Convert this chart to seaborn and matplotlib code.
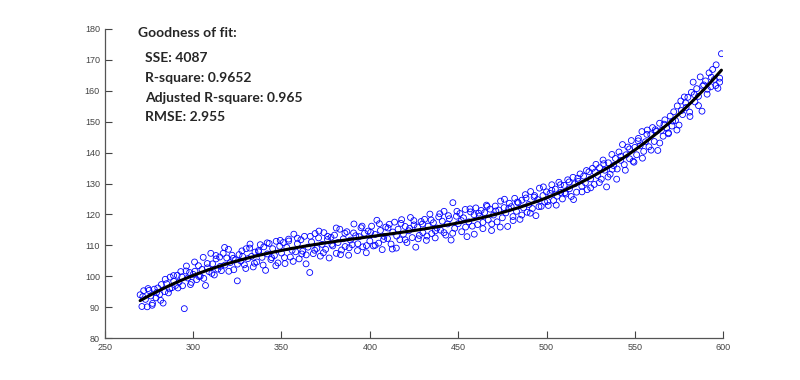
import matplotlib
matplotlib.use("Agg")
import matplotlib.pyplot as plt
import seaborn as sns
import pandas as pd

x_vals = [
    270, 271, 272, 273, 274, 275, 276, 277, 278, 279,
    280, 281, 282, 283, 284, 285, 286, 287, 288, 289,
    290, 291, 292, 293, 294, 295, 296, 297, 298, 299,
    300, 301, 302, 303, 304, 305, 306, 307, 308, 309,
    310, 311, 312, 313, 314, 315, 316, 317, 318, 319,
    320, 321, 322, 323, 324, 325, 326, 327, 328, 329,
    330, 331, 332, 333, 334, 335, 336, 337, 338, 339,
    340, 341, 342, 343, 344, 345, 346, 347, 348, 349,
    350, 351, 352, 353, 354, 355, 356, 357, 358, 359,
    360, 361, 362, 363, 364, 365, 366, 367, 368, 369,
    370, 371, 372, 373, 374, 375, 376, 377, 378, 379,
    380, 381, 382, 383, 384, 385, 386, 387, 388, 389,
    390, 391, 392, 393, 394, 395, 396, 397, 398, 399,
    400, 401, 402, 403, 404, 405, 406, 407, 408, 409,
    410, 411, 412, 413, 414, 415, 416, 417, 418, 419,
    420, 421, 422, 423, 424, 425, 426, 427, 428, 429,
    430, 431, 432, 433, 434, 435, 436, 437, 438, 439,
    440, 441, 442, 443, 444, 445, 446, 447, 448, 449,
    450, 451, 452, 453, 454, 455, 456, 457, 458, 459,
    460, 461, 462, 463, 464, 465, 466, 467, 468, 469,
    470, 471, 472, 473, 474, 475, 476, 477, 478, 479,
    480, 481, 482, 483, 484, 485, 486, 487, 488, 489,
    490, 491, 492, 493, 494, 495, 496, 497, 498, 499,
    500, 501, 502, 503, 504, 505, 506, 507, 508, 509,
    510, 511, 512, 513, 514, 515, 516, 517, 518, 519,
    520, 521, 522, 523, 524, 525, 526, 527, 528, 529,
    530, 531, 532, 533, 534, 535, 536, 537, 538, 539,
    540, 541, 542, 543, 544, 545, 546, 547, 548, 549,
    550, 551, 552, 553, 554, 555, 556, 557, 558, 559,
    560, 561, 562, 563, 564, 565, 566, 567, 568, 569,
    570, 571, 572, 573, 574, 575, 576, 577, 578, 579,
    580, 581, 582, 583, 584, 585, 586, 587, 588, 589,
    590, 591, 592, 593, 594, 595, 596, 597, 598, 599,
]
y_vals = [
    94.0, 90.2, 95.3, 92.5, 90.1, 95.4, 93.6, 91.2, 95.8, 93.0,
    96.2, 94.1, 97.3, 91.3, 95.0, 97.6, 94.6, 99.7, 96.3, 98.4,
    97.0, 100.3, 98.1, 101.5, 96.9, 89.5, 101.7, 99.4, 101.2, 98.0,
    100.6, 101.6, 98.9, 103.4, 100.0, 102.2, 99.3, 97.0, 104.1, 101.5,
    107.4, 104.0, 100.4, 105.6, 102.3, 106.2, 101.8, 107.4, 103.6, 105.9,
    108.7, 104.4, 106.8, 102.1, 105.3, 98.5, 107.0, 104.9, 106.4, 103.7,
    108.9, 105.7, 109.1, 106.4, 103.0, 107.8, 104.6, 108.3, 110.2, 106.1,
    109.5, 101.9, 107.2, 110.6, 105.4, 108.9, 106.7, 111.3, 104.3, 109.7,
    107.5, 110.9, 104.1, 109.3, 112.0, 106.2, 108.4, 113.6, 107.9, 110.5,
    105.6, 111.8, 108.1, 112.9, 106.9, 109.4, 101.2, 111.1, 107.3, 113.8,
    109.0, 112.4, 106.5, 110.3, 114.1, 108.7, 111.9, 105.9, 112.6, 109.8,
    113.3, 107.4, 110.9, 115.2, 108.5, 112.1, 109.6, 114.4, 106.8, 111.7,
    110.2, 116.9, 113.1, 108.3, 112.8, 115.7, 109.5, 113.9, 107.6, 114.6,
    111.4, 116.2, 109.8, 113.5, 118.1, 110.7, 114.8, 108.6, 112.9, 115.9,
    112.2, 116.8, 110.4, 114.3, 117.5, 109.1, 115.2, 111.8, 118.3, 113.6,
    116.1, 110.9, 114.7, 119.0, 112.5, 116.6, 109.4, 115.9, 113.2, 117.7,
    114.1, 118.4, 111.6, 116.2, 120.1, 113.8, 117.3, 112.4, 115.6, 119.2,
    114.9, 117.8, 121.0, 113.3, 116.9, 118.6, 111.7, 123.8, 115.5, 119.4,
    117.0, 120.3, 114.4, 118.9, 121.6, 112.8, 117.6, 120.8, 116.2, 119.9,
    122.1, 116.7, 119.5, 121.3, 115.4, 120.6, 123.0, 118.2, 121.7, 116.9,
    119.8, 122.7, 117.6, 121.4, 124.3, 118.9, 122.2, 120.5, 116.1, 123.6,
    122.5, 119.3, 125.2, 121.0, 123.8, 118.4, 124.6, 122.1, 126.4, 120.7,
    123.2, 127.4, 121.9, 125.6, 119.6, 124.8, 128.5, 122.6, 126.1, 124.0,
    127.3, 122.9, 126.8, 129.6, 124.5, 128.2, 125.9, 130.4, 127.1, 125.0,
    129.4, 126.6, 131.2, 128.3, 125.8, 132.0, 129.9, 127.2, 130.7, 133.1,
    129.1, 132.4, 130.2, 128.0, 133.8, 131.5, 134.9, 129.7, 136.2, 132.6,
    135.1, 131.4, 137.6, 134.3, 128.9, 136.7, 133.0, 139.4, 135.8, 138.1,
    134.7, 140.2, 137.5, 142.6, 136.1, 139.3, 141.8, 138.0, 143.9, 137.2,
    141.7, 139.3, 144.6, 142.2, 146.8, 140.4, 143.5, 147.3, 141.9, 145.8,
    148.1, 143.6, 146.9, 140.7, 149.5, 147.2, 145.3, 150.6, 148.0, 146.4,
    151.8, 148.6, 153.2, 150.4, 155.1, 148.9, 156.7, 152.3, 158.0, 154.6,
    157.9, 153.1, 159.5, 162.8, 156.4, 160.7, 158.2, 164.5, 153.4, 161.9,
    163.2, 160.5, 165.8, 161.3, 166.9, 163.7, 168.4, 160.8, 164.1, 172.0,
]

# second batch of points lying between the first ones
x_extra = [
    271.5, 274.5, 276.8, 279.3, 281.6, 284.2, 286.7, 288.9,
    291.4, 293.6, 296.2, 298.5, 300.8, 303.3, 305.7, 308.1,
    310.6, 312.9, 315.4, 317.8, 320.2, 322.7, 325.1, 327.6, 329.8,
    332.2, 334.7, 337.1, 339.6, 341.9, 344.4, 346.8, 349.3,
    351.7, 354.1, 356.6, 359.0, 361.5, 363.9, 366.3, 368.8,
    371.2, 373.7, 376.1, 378.5, 381.0, 383.4, 385.9, 388.3,
    390.8, 393.2, 395.6, 398.1, 400.5, 403.0, 405.4, 407.8,
    410.3, 412.7, 415.2, 417.6, 420.0, 422.5, 424.9, 427.4, 429.8,
    432.3, 434.7, 437.1, 439.6, 442.0, 444.5, 446.9, 449.3,
    451.8, 454.2, 456.7, 459.1, 461.6, 464.0, 466.4, 468.9,
    471.3, 473.8, 476.2, 478.6, 481.1, 483.5, 486.0, 488.4,
    490.8, 493.3, 495.7, 498.2, 500.6, 503.0, 505.5, 507.9,
    510.4, 512.8, 515.3, 517.7, 520.1, 522.6, 525.0, 527.5,
    529.9, 532.4, 534.8, 537.2, 539.7, 542.1, 544.6, 547.0, 549.5,
    551.9, 554.3, 556.8, 559.2, 561.6, 564.1, 566.5, 569.0,
    571.4, 573.8, 576.3, 578.7, 581.2, 583.6, 586.0, 588.4,
    590.9, 593.3, 595.8, 598.0,
]
y_extra = [
    93.4, 96.0, 90.6, 94.7, 92.2, 99.0, 95.9, 100.2,
    96.2, 99.8, 103.3, 97.3, 104.6, 99.9, 106.1, 102.7,
    100.9, 106.7, 103.2, 109.3, 101.6, 105.8, 103.9, 108.2, 102.5,
    110.4, 104.2, 107.9, 103.6, 110.8, 106.0, 103.4, 111.6,
    106.0, 111.4, 104.8, 112.3, 107.2, 104.0, 112.9, 108.4,
    114.6, 107.6, 112.9, 110.3, 115.6, 107.0, 113.9, 109.2,
    114.0, 110.5, 116.2, 109.9, 114.2, 110.0, 117.0, 111.9,
    115.6, 108.8, 113.0, 117.1, 111.8, 115.5, 118.0, 112.1, 116.9,
    113.0, 118.2, 114.7, 120.2, 114.1, 119.6, 113.9, 121.0,
    118.0, 115.9, 121.8, 113.6, 120.4, 117.4, 122.6, 114.8,
    121.1, 115.9, 124.9, 121.9, 118.0, 124.0, 119.8, 125.3,
    120.4, 126.1, 122.5, 128.9, 124.2, 127.8, 123.0, 129.6,
    127.0, 130.5, 124.8, 131.7, 127.3, 134.2, 128.6, 133.7,
    130.3, 136.4, 132.1, 134.6, 131.4, 138.8, 134.3, 141.2, 136.9,
    143.8, 138.2, 145.9, 140.8, 147.4, 143.1, 149.2, 146.1,
    150.2, 147.3, 153.6, 156.1, 151.7, 158.8, 155.2, 161.5,
    158.9, 164.4, 161.7, 162.8,
]

fit_stats = [
    "Goodness of fit:",
    "SSE: 4087",
    "R-square: 0.9652",
    "Adjusted R-square: 0.965",
    "RMSE: 2.955",
]

x_ticks = [250, 300, 350, 400, 450, 500, 550, 600]
y_ticks = [80, 90, 100, 110, 120, 130, 140, 150, 160, 170, 180]

df = pd.DataFrame({"x": x_vals + x_extra, "y": y_vals + y_extra})

sns.set_style("ticks")
plt.rcParams["font.family"] = ["Liberation Sans", "DejaVu Sans"]
plt.rcParams["xtick.direction"] = "in"
plt.rcParams["ytick.direction"] = "in"

fig = plt.figure(figsize=(8, 3.8), dpi=100)
ax = fig.add_axes([0.131, 0.1105, 0.773, 0.8132])

sns.regplot(
    data=df, x="x", y="y", order=3, ci=None, ax=ax,
    scatter_kws=dict(facecolors="none", edgecolors="#0000ff", s=18,
                     linewidths=0.6, alpha=1),
    line_kws=dict(color="black", lw=2.2),
)

ax.set_xlim(250, 600)
ax.set_ylim(80, 180)
ax.set_xticks(x_ticks)
ax.set_yticks(y_ticks)
ax.set_xlabel("")
ax.set_ylabel("")
ax.tick_params(labelsize=6.5, colors="#444444", length=5, width=0.8)
for side in ["left", "bottom"]:
    ax.spines[side].set_color("#555555")
    ax.spines[side].set_linewidth(0.9)
sns.despine(ax=ax)

# goodness-of-fit block
txt_font = ["Lato", "DejaVu Sans"]
ax.text(0.054, 0.987, fit_stats[0], transform=ax.transAxes, fontsize=10,
        fontweight="bold", family=txt_font, va="center")
for i, line in enumerate(fit_stats[1:]):
    ax.text(0.065, 0.906 - i * 0.064, line, transform=ax.transAxes,
            fontsize=10, fontweight="bold", family=txt_font, va="center")

fig.savefig("out.png", dpi=100)
